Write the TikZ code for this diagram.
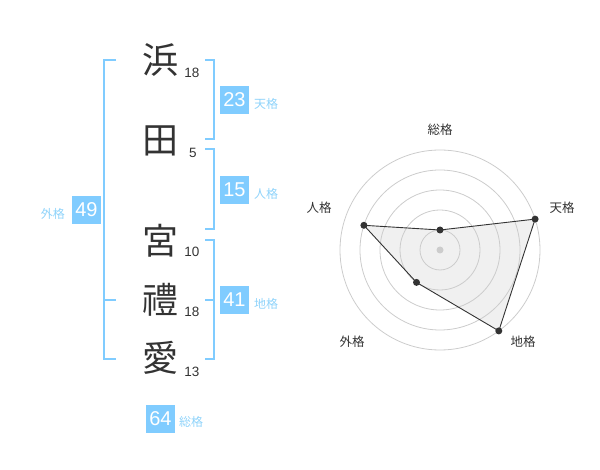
\documentclass[tikz,border=0pt]{standalone}
\usepackage{fontspec}
\setmainfont{Liberation Sans}
\newfontfamily\cjk{Noto Sans CJK JP}
\usepackage{tikz}
\usetikzlibrary{positioning}

\definecolor{kakublue}{HTML}{80CCFF}
\definecolor{labelblue}{HTML}{8FD3FA}
\definecolor{inkgray}{HTML}{333333}
\definecolor{ringgray}{HTML}{CCCCCC}

\tikzset{
  kanji/.style={text=inkgray, inner sep=0pt, font=\cjk\fontsize{36}{36}\selectfont},
  strokes/.style={text=inkgray, inner sep=0pt, font=\fontsize{13.5}{14}\selectfont},
  kakubox/.style={fill=kakublue, text=white, minimum width=29pt, minimum height=28pt,
    inner sep=0pt, font=\fontsize{20}{20}\selectfont},
  kakulabel/.style={text=labelblue, inner sep=0pt, font=\cjk\fontsize{12}{12}\selectfont},
  axislabel/.style={text=inkgray, inner sep=0pt, font=\cjk\fontsize{12.5}{13}\selectfont},
  bracket/.style={draw=kakublue, line width=2pt}
}

\begin{document}
\begin{tikzpicture}[x=1pt, y=-1pt]
  \useasboundingbox (0,0) rectangle (600,470);

  % the name
  \node[kanji] (k1) at (160,60) {浜};
  \node[kanji] (k2) at (160,141) {田};
  \node[kanji] (k3) at (160,241) {宮};
  \node[kanji] (k4) at (160,300) {禮};
  \node[kanji] (k5) at (160,358) {愛};

  \node[strokes] (s1) at (192,73) {18};
  \node[strokes] (s2) at (193,153) {5};
  \node[strokes] (s3) at (192,252) {10};
  \node[strokes] (s4) at (192,312) {18};
  \node[strokes] (s5) at (192,372) {13};

  % brackets
  \coordinate (r1) at (205,60);
  \coordinate (r2) at (214,60);
  \coordinate (r3) at (214,139);
  \coordinate (r4) at (205,139);
  \coordinate (r5) at (205,149);
  \coordinate (r6) at (214,149);
  \coordinate (r7) at (214,229);
  \coordinate (r8) at (205,229);
  \coordinate (r9) at (205,240);
  \coordinate (r10) at (214,240);
  \coordinate (r11) at (214,359);
  \coordinate (r12) at (205,359);
  \coordinate (r13) at (205,300);
  \coordinate (r14) at (214,300);
  \coordinate (l1) at (116,60);
  \coordinate (l2) at (104,60);
  \coordinate (l3) at (104,359);
  \coordinate (l4) at (116,359);
  \coordinate (l5) at (104,300);
  \coordinate (l6) at (116,300);

  \draw[bracket] (r1) -- (r2) -- (r3) -- (r4);
  \draw[bracket] (r5) -- (r6) -- (r7) -- (r8);
  \draw[bracket] (r9) -- (r10) -- (r11) -- (r12);
  \draw[bracket] (r13) -- (r14);
  \draw[bracket] (l1) -- (l2) -- (l3) -- (l4);
  \draw[bracket] (l5) -- (l6);

  % the five scores
  \node[kakubox] (ten) at (234.5,100) {23};
  \node[kakulabel, anchor=west] (tenl) at (254,104) {天格};
  \node[kakubox] (jin) at (234.5,190) {15};
  \node[kakulabel, anchor=west] (jinl) at (254,194) {人格};
  \node[kakubox] (chi) at (234.5,300) {41};
  \node[kakulabel, anchor=west] (chil) at (254,304) {地格};
  \node[kakubox] (gai) at (86.5,210) {49};
  \node[kakulabel, anchor=east] (gail) at (65,214) {外格};
  \node[kakubox] (sou) at (160.5,419) {64};
  \node[kakulabel, anchor=west] (soul) at (179,422) {総格};

  % radar chart
  \coordinate (c) at (440,250);
  \coordinate (p1) at (440,230);
  \coordinate (p2) at (535.1,219.1);
  \coordinate (p3) at (498.8,330.9);
  \coordinate (p4) at (416.5,282.4);
  \coordinate (p5) at (363.9,225.3);

  \fill[black!6] (p1) -- (p2) -- (p3) -- (p4) -- (p5) -- cycle;
  \foreach \r in {20,40,...,100} {
    \draw[ringgray, line width=0.8pt] (c) circle (\r);
  }
  \draw[inkgray, line width=0.9pt] (p1) -- (p2) -- (p3) -- (p4) -- (p5) -- cycle;
  \fill[ringgray] (c) circle (3.5pt);
  \foreach \i in {1,...,5} {
    \fill[inkgray] (p\i) circle (3.5pt);
  }

  \node[axislabel] (a1) at (440,130) {総格};
  \node[axislabel] (a2) at (562,208) {天格};
  \node[axislabel] (a3) at (523,342) {地格};
  \node[axislabel] (a4) at (352,342) {外格};
  \node[axislabel] (a5) at (319,208) {人格};
\end{tikzpicture}
\end{document}
